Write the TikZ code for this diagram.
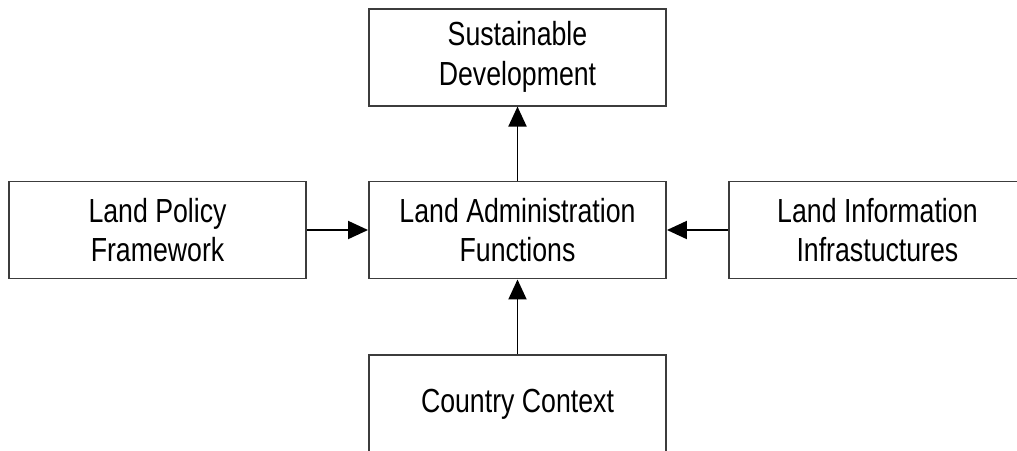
\documentclass[tikz,border=0pt]{standalone}
\usepackage{fontspec}
\setmainfont[FakeStretch=0.8]{Liberation Sans}
\usetikzlibrary{positioning, arrows.meta}
\tikzset{every picture/.style={line width=1.1pt}}
\definecolor{box-edge}{RGB}{60,60,60}

\begin{document}
\begin{tikzpicture}
    [box/.style = {rectangle, draw=box-edge, fill=white, align=center,
            minimum width=5.94cm, minimum height=1.94cm,
            font=\fontsize{19}{22.5}\selectfont},
    -{Triangle[length=4mm, width=3.6mm]},
    ]

    \useasboundingbox (0, 0) rectangle (20.34, -9);

	\node[box] (laf) at (10.35, -4.6) {Land Administration\\Functions};
	\node[box, above=1.48cm of laf] (sd) {Sustainable\\Development};
	\node[box, left=1.22cm of laf] (lpf) {Land Policy\\Framework};
	\node[box, right=1.22cm of laf] (lii) {Land Information\\Infrastuctures};
	\node[box, below=1.5cm of laf] (cc) {Country Context};

    \draw (laf.north) -- (sd.south);
    \draw (lpf.east) -- (laf.west);
    \draw (lii.west) -- (laf.east);
    \draw (cc.north) -- (laf.south);
\end{tikzpicture}
\end{document}
